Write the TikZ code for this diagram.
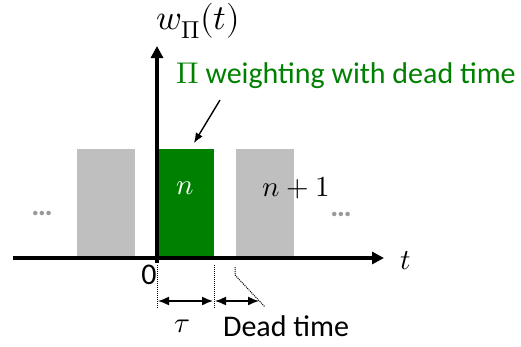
\documentclass[tikz,border=0pt]{standalone}
\usepackage{fontspec}
\usepackage{unicode-math}
\setmainfont{Carlito}
\setmathfont{Latin Modern Math}
\usetikzlibrary{arrows.meta,positioning}
\definecolor{pigreen}{RGB}{0,128,0}
\definecolor{pulsegray}{RGB}{191,191,191}
\tikzset{
    axis/.style={line width=3.5pt, -{Triangle[length=12pt,width=12pt]}},
    pulse/.style={fill=pulsegray, minimum width=58pt, minimum height=109pt,
        inner sep=0pt, anchor=south west},
    marker/.style={densely dotted, line width=1pt},
    span/.style={{Latex[length=11pt,width=9pt]}-{Latex[length=11pt,width=9pt]}, line width=1.5pt},
    callout/.style={line width=1.4pt, -{Latex[length=10pt,width=8pt]}},
    mathlab/.style={font=\fontsize{29}{32}\selectfont},
    textlab/.style={font=\fontsize{30}{34}\selectfont},
    dotlab/.style={text=gray!80, font=\fontsize{30}{34}\selectfont\bfseries}
}
\begin{document}
\begin{tikzpicture}[x=1pt, y=-1pt]
    \useasboundingbox (0,0) rectangle (521,346);

    % Pulses
    \node[pulse] (pulseA) at (77,258) {};
    \node[pulse, fill=pigreen, minimum width=57pt] (pulseN) at (157,258) {};
    \node[pulse] (pulseB) at (236,258) {};
    \node[mathlab, text=white] (labN) at (185,188) {$n$};
    \node[mathlab] (labB) at (296,188) {$n+1$};
    \node[dotlab] (dotsL) at (42,213) {…};
    \node[dotlab] (dotsR) at (341,214) {…};

    % Axes
    \coordinate (xstart) at (13,258);
    \coordinate (xend) at (384,258);
    \coordinate (ystart) at (157,263);
    \coordinate (yend) at (157,46);
    \draw[axis] (xstart) -- (xend);
    \draw[axis] (ystart) -- (yend);
    \node[mathlab] (tlab) at (406,261) {$t$};
    \node[mathlab, font=\fontsize{35}{38}\selectfont] (wlab) at (198,21) {$w_{\Pi}(t)$};
    \node[textlab] (zero) at (149,275) {0};

    % Callout
    \node[textlab, text=pigreen] (title) at (346,76) {$\Pi$ weighting with dead time};
    \coordinate (calltail) at (220,100);
    \coordinate (calltip) at (194,143);
    \draw[callout] (calltail) -- (calltip);

    % Markers below the axis
    \coordinate (m0a) at (157,265); \coordinate (m0b) at (157,308);
    \coordinate (m1a) at (214,265); \coordinate (m1b) at (214,308);
    \coordinate (m2a) at (235,267); \coordinate (m2k) at (235,275);
    \coordinate (m2b) at (265,307);
    \draw[marker] (m0a) -- (m0b);
    \draw[marker] (m1a) -- (m1b);
    \draw[marker] (m2a) -- (m2k) -- (m2b);
    \coordinate (s0) at (158,301); \coordinate (s1) at (213,301);
    \coordinate (s2) at (215,301); \coordinate (s3) at (259,301);
    \draw[span] (s0) -- (s1);
    \draw[span] (s2) -- (s3);
    \node[mathlab] (taulab) at (182,326) {$\tau$};
    \node[textlab] (deadlab) at (286,326) {Dead time};
\end{tikzpicture}
\end{document}
